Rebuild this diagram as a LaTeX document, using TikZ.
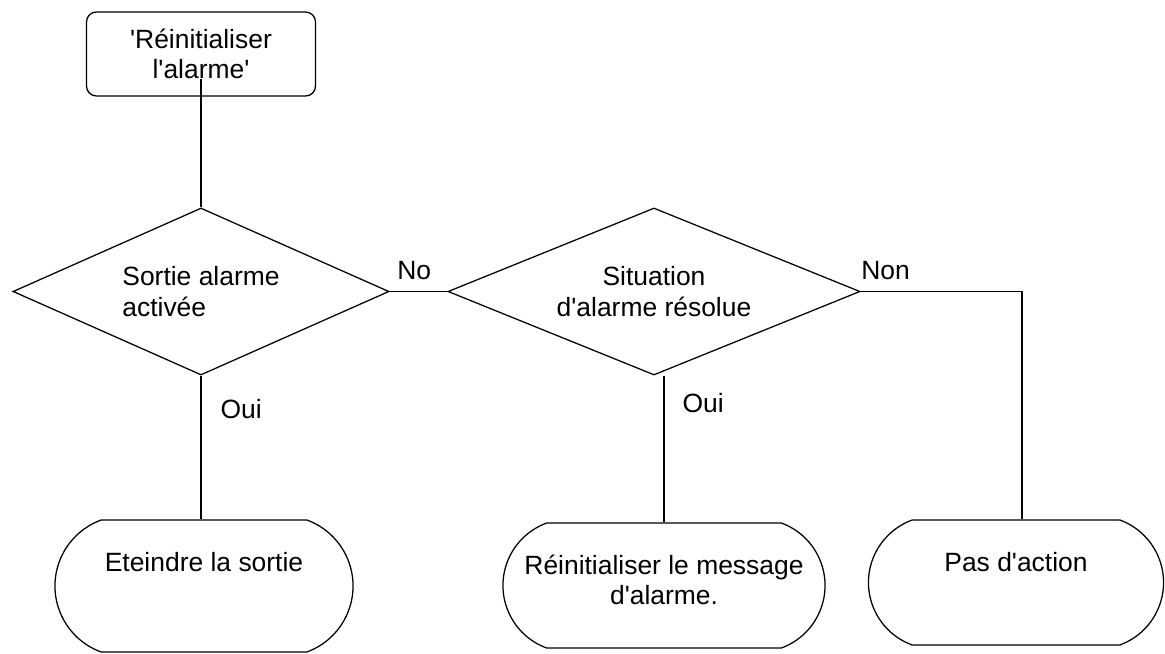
\documentclass[tikz,border=0pt]{standalone}
\usepackage{fontspec}
\setmainfont{Liberation Sans}
\usetikzlibrary{shapes.geometric,shapes.misc,positioning}
\newcommand{\apos}{\textquotesingle}

\tikzset{
    startbox/.style={draw, rounded corners=0.25cm, inner sep=0, minimum width=5.725cm, minimum height=2.1cm, align=center},
    decision/.style={draw, diamond, shape aspect=2.25, inner sep=0, minimum height=4.175cm},
    endbox/.style={draw, rounded rectangle, rounded rectangle arc length=140, inner sep=0, minimum height=3.125cm},
    answer/.style={inner sep=0},
    every label/.style={inner sep=0, align=center, anchor=north, yshift=-0.8cm}
}

\begin{document}
\begin{tikzpicture}[x=0.025cm, y=-0.025cm, line width=0.9pt, font=\fontsize{18.8pt}{21.5pt}\selectfont]
    \useasboundingbox (0,0) rectangle (1165,653);
    % Nodes
    \node (reset) [startbox] at (201,54) {\apos R\'einitialiser\\l\apos alarme\apos};
    \node (decide1) [decision, minimum width=9.4cm, align=left] at (201,291.5) {Sortie alarme\\activ\'ee};
    \node (decide2) [decision, minimum width=10.3cm, align=center] at (654,291.5) {Situation\\d\apos alarme r\'esolue};
    \node (off) [endbox, minimum width=7.45cm, minimum height=3.3cm, label={north:Eteindre la sortie}] at (204,586) {};
    \node (msg) [endbox, minimum width=8.05cm, label={north:R\'einitialiser le message\\d\apos alarme.}] at (664,585.5) {};
    \node (noaction) [endbox, minimum width=7.375cm, label={north:Pas d\apos action}] at (1016,582.5) {};
    \node (no) [answer, above right=0.275cm and 0.175cm of decide1.east] {No};
    \node (non) [answer, above right=0.275cm and 0cm of decide2.east] {Non};
    \node (oui1) [answer, below right=0.575cm and 0.475cm of decide1.south] {Oui};
    \node (oui2) [answer, below right=0.425cm and 0.7cm of decide2.south] {Oui};

    % Edges
    \draw ([yshift=0.45cm]reset.south) -- (decide1.north);
    \draw (decide1.east) -- (decide2.west);
    \draw (decide2.east) -| ([xshift=0.15cm]noaction.north);
    \draw (decide1.south) -- (decide1.south |- off.north);
    \draw (decide2.south -| msg.north) -- (msg.north);
\end{tikzpicture}
\end{document}
